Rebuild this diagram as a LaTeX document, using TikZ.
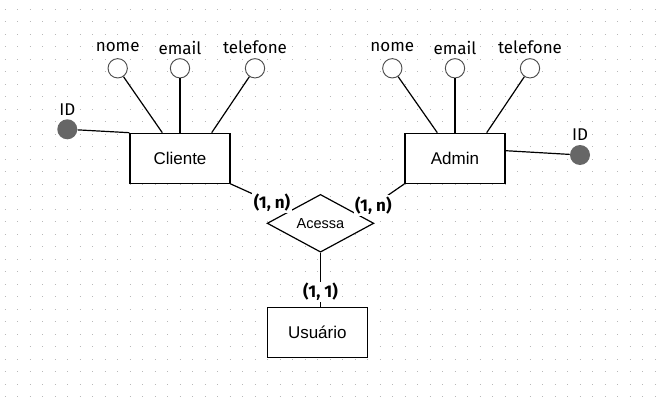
\documentclass[tikz,border=0pt]{standalone}
\usepackage{fontspec}
\setmainfont{Liberation Sans}
\newfontfamily\attrfont{Fira Sans}
\usetikzlibrary{calc,shapes}
\definecolor{gridgray}{HTML}{B8B8B8}
\definecolor{keygray}{HTML}{666666}
\definecolor{ringgray}{HTML}{4D4D4D}

\begin{document}
\begin{tikzpicture}[x=0.75pt,y=-0.75pt,
    entity/.style={draw, fill=white, line width=0.9pt, minimum width=75pt, minimum height=37.5pt, font=\fontsize{12.75}{15}\selectfont},
    relation/.style={diamond, draw, fill=white, line width=0.9pt, inner sep=0pt, minimum width=80pt, minimum height=41.25pt, font=\fontsize{10.9}{13}\selectfont},
    attrib/.style={circle, draw=ringgray, fill=white, line width=0.7pt, inner sep=0pt, minimum size=14.5pt},
    keyattr/.style={circle, fill=keygray, inner sep=0pt, minimum size=15pt},
    attrname/.style={font=\attrfont\fontsize{12.75}{15}\selectfont, inner sep=1pt},
    card/.style={font=\attrfont\bfseries\fontsize{12.75}{15}\selectfont, fill=white, inner sep=1pt},
    link/.style={line width=0.9pt}]
    \fill [white] (0,0) rectangle (658,407);
    \useasboundingbox (0,0) rectangle (658,407);
    % dotted grid
    \foreach \y in {9,21.5,...,397}
        \draw [gridgray, line width=0.75pt, dash pattern=on 0.75pt off 8.625pt] (4.8,\y) -- (658,\y);

    \node [entity] (cliente) at (180,158.3) {Cliente};
    \node [entity] (admin) at (455,158.3) {Admin};
    \node [entity] (usuario) at (317.3,332.8) {Usuário};
    \node [relation] (acessa) at (320.5,223.3) {Acessa};

    \node [attrib] (cnome) at (117.7,68.3) {};
    \node [attrib] (cemail) at (180,68.3) {};
    \node [attrib] (ctel) at (255,68.3) {};
    \node [keyattr] (cid) at (67.3,129.3) {};
    \node [attrname] (cnomelbl) at (117.7,47.5) {nome};
    \node [attrname] (cemaillbl) at (180,47.5) {email};
    \node [attrname] (ctellbl) at (255,47.5) {telefone};
    \node [attrname] (cidlbl) at (67.3,109.5) {ID};

    \node [attrib] (anome) at (392.3,68.3) {};
    \node [attrib] (aemail) at (455,68.3) {};
    \node [attrib] (atel) at (530,68.3) {};
    \node [keyattr] (aid) at (580,155) {};
    \node [attrname] (anomelbl) at (392.3,47.5) {nome};
    \node [attrname] (aemaillbl) at (455,47.5) {email};
    \node [attrname] (atellbl) at (530,47.5) {telefone};
    \node [attrname] (aidlbl) at (580,135) {ID};

    \draw [link] (cnome) -- ($(cliente.north)+(-17.7,0)$);
    \draw [link] (cemail) -- (cliente.north);
    \draw [link] (ctel) -- ($(cliente.north)+(31.7,0)$);
    \draw [link] (cid) -- (cliente.north west);

    \draw [link] (anome) -- ($(admin.north)+(-17.7,0)$);
    \draw [link] (aemail) -- (admin.north);
    \draw [link] (atel) -- ($(admin.north)+(31.7,0)$);
    \draw [link] ($(admin.north east)+(0,18)$) -- (aid);

    \draw [link] (cliente.south east) -- node [card, pos=0.7] {(1, n)} ($(acessa.west)!0.43!(acessa.north)$);
    \draw [link] (admin.south west) -- node [card, pos=0.69] {(1, n)} ($(acessa.north)!0.72!(acessa.east)$);
    \draw [link] (acessa.south) -- node [card, pos=0.72] {(1, 1)} (acessa.south |- usuario.north);
\end{tikzpicture}
\end{document}
